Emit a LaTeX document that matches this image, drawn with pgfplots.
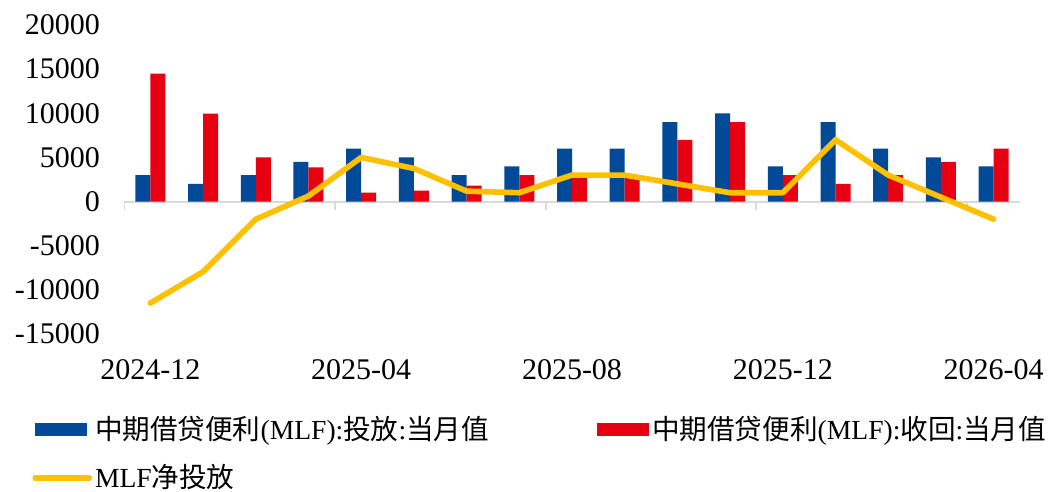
\documentclass[border=0pt]{standalone}
\usepackage{fontspec}
\setmainfont{Liberation Serif}
\newfontfamily\cjk{Noto Sans CJK SC}
\usepackage{pgfplots}
\usepackage{pgfplotstable}
\pgfplotsset{compat=1.18}

\definecolor{mlfblue}{RGB}{0,74,151}
\definecolor{mlfred}{RGB}{230,0,18}
\definecolor{mlfyellow}{RGB}{255,192,0}
\definecolor{axisgray}{RGB}{217,217,217}

% month index, MLF injection, MLF maturity, net injection
\pgfplotstableread{
x  inject withdraw net
0  3000   14500    -11500
1  2000   9950     -7950
2  3000   5000     -2000
3  4500   3870     630
4  6000   1000     5000
5  5000   1250     3750
6  3000   1820     1180
7  4000   3000     1000
8  6000   3000     3000
9  6000   3000     3000
10 9000   7000     2000
11 10000  9000     1000
12 4000   3000     1000
13 9000   2000     7000
14 6000   3000     3000
15 5000   4500     500
16 4000   6000     -2000
}\mlfdata

\begin{document}
\begin{tikzpicture}
\useasboundingbox (0,0) rectangle (528pt,246pt);
\begin{axis}[
    at={(62pt,79pt)}, anchor=south west,
    scale only axis, width=448pt, height=154.5pt,
    xmin=-0.5, xmax=16.5, ymin=-15000, ymax=20000,
    axis line style={draw=none},
    major tick length=0pt,
    xtick={0,4,8,12,16},
    xticklabels={2024-12,2025-04,2025-08,2025-12,2026-04},
    ytick={-15000,-10000,-5000,0,5000,10000,15000,20000},
    scaled y ticks=false,
    /pgf/number format/1000 sep={},
    /pgf/number format/assume math mode=true,
    tick label style={font=\fontsize{15}{17}\selectfont},
    yticklabel style={xshift=-8.5pt},
    xticklabel style={yshift=-9pt},
    legend columns=2,
    legend cell align=left,
    legend style={at={(axis description cs:0,0)}, anchor=north west,
      xshift=-46pt, yshift=-41pt, draw=none, fill=none, inner sep=0pt,
      row sep=11pt, font=\fontsize{13.8}{16}\selectfont,
      nodes={inner sep=0pt},
      /tikz/every odd column/.style={column sep=1.5pt},
      /tikz/column 2/.style={column sep=54pt}},
]
\draw[axisgray, line width=1pt] (axis cs:-0.5,0) -- (axis cs:16.5,0);
\draw[axisgray, line width=1pt] (axis cs:-0.5,0) -- ++(0pt,-4pt);
\draw[axisgray, line width=1pt] (axis cs:3.5,0) -- ++(0pt,-4pt);
\draw[axisgray, line width=1pt] (axis cs:7.5,0) -- ++(0pt,-4pt);
\draw[axisgray, line width=1pt] (axis cs:11.5,0) -- ++(0pt,-4pt);
\draw[axisgray, line width=1pt] (axis cs:15.5,0) -- ++(0pt,-4pt);

\addplot[ybar, bar width=7.5pt, bar shift=-3.75pt, fill=mlfblue, draw=none,
  legend image code/.code={\fill[mlfblue] (0pt,-3.25pt) rectangle (26pt,3.25pt);}]
  table[x=x, y=inject] {\mlfdata};
\addlegendentry{{\cjk 中期借贷便利}(MLF):{\cjk 投放}:{\cjk 当月值}}

\addplot[ybar, bar width=7.5pt, bar shift=3.75pt, fill=mlfred, draw=none,
  legend image code/.code={\fill[mlfred] (0pt,-3.25pt) rectangle (26pt,3.25pt);}]
  table[x=x, y=withdraw] {\mlfdata};
\addlegendentry{{\cjk 中期借贷便利}(MLF):{\cjk 收回}:{\cjk 当月值}}

\addplot[mlfyellow, line width=2.8pt, line join=round, line cap=round, mark=none,
  legend image code/.code={\draw[mlfyellow, line width=2.8pt, line cap=round] (0pt,0pt) -- (27pt,0pt);}]
  table[x=x, y=net] {\mlfdata};
\addlegendentry{MLF{\cjk 净投放}}
\end{axis}
\end{tikzpicture}
\end{document}
